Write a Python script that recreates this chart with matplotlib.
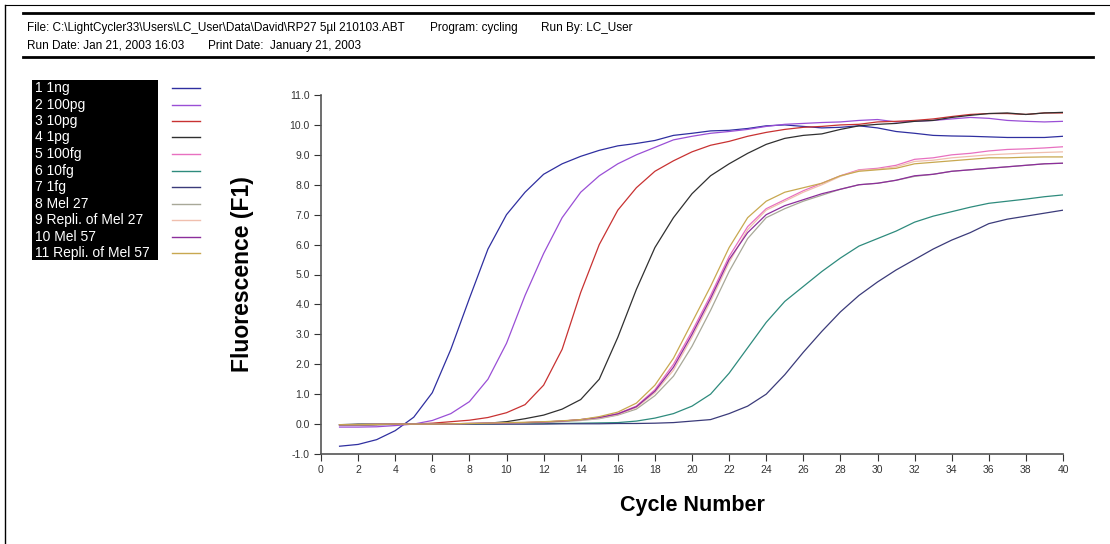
import numpy as np
import matplotlib.pyplot as plt
from matplotlib.patches import Rectangle
from matplotlib.lines import Line2D

plt.rcParams['font.family'] = ['Liberation Sans', 'DejaVu Sans']

# sample names and curve colours
names = ["1 1ng", "2 100pg", "3 10pg", "4 1pg", "5 100fg", "6 10fg", "7 1fg",
         "8 Mel 27", "9 Repli. of Mel 27", "10 Mel 57", "11 Repli. of Mel 57"]
colors = ["#2f2fa0", "#9a4fd6", "#c83232", "#303030", "#e870c0", "#2e8b7d",
          "#3b3b7a", "#a8a898", "#f0bfae", "#8c2e9c", "#c8a850"]

cycles = np.arange(1, 41)

# fluorescence (F1) per cycle
f_1ng = [-0.74, -0.68, -0.52, -0.22, 0.23, 1.05, 2.5, 4.2, 5.85, 7.0,
         7.75, 8.35, 8.7, 8.95, 9.15, 9.3, 9.38, 9.48, 9.65, 9.72,
         9.8, 9.82, 9.88, 9.97, 10.0, 9.95, 9.9, 9.92, 9.97, 9.9,
         9.78, 9.72, 9.65, 9.63, 9.62, 9.6, 9.58, 9.58, 9.58, 9.62]
f_100pg = [-0.1, -0.1, -0.09, -0.05, 0.0, 0.12, 0.35, 0.75, 1.5, 2.7,
           4.3, 5.7, 6.9, 7.75, 8.3, 8.7, 9.0, 9.25, 9.5, 9.62,
           9.72, 9.78, 9.85, 9.95, 10.02, 10.05, 10.08, 10.1, 10.15, 10.18,
           10.1, 10.12, 10.15, 10.2, 10.25, 10.22, 10.15, 10.12, 10.1, 10.12]
f_10pg = [-0.03, -0.03, -0.02, 0.0, 0.0, 0.03, 0.08, 0.13, 0.22, 0.38,
          0.65, 1.3, 2.5, 4.4, 6.0, 7.15, 7.9, 8.45, 8.8, 9.1,
          9.32, 9.45, 9.62, 9.75, 9.85, 9.92, 9.95, 10.0, 10.02, 10.1,
          10.12, 10.15, 10.2, 10.28, 10.35, 10.38, 10.38, 10.35, 10.4, 10.4]
f_1pg = [-0.02, 0.0, 0.0, 0.0, 0.0, 0.0, 0.0, 0.01, 0.03, 0.08,
         0.18, 0.3, 0.5, 0.82, 1.5, 2.9, 4.5, 5.9, 6.9, 7.7,
         8.3, 8.7, 9.05, 9.35, 9.55, 9.65, 9.7, 9.85, 9.97, 10.02,
         10.05, 10.12, 10.15, 10.25, 10.32, 10.38, 10.4, 10.35, 10.4, 10.42]
f_100fg = [-0.02, -0.02, -0.01, 0.0, 0.0, 0.0, 0.01, 0.02, 0.03, 0.04,
           0.05, 0.07, 0.1, 0.15, 0.22, 0.35, 0.6, 1.15, 2.0, 3.1,
           4.3, 5.6, 6.6, 7.2, 7.5, 7.8, 8.05, 8.3, 8.5, 8.55,
           8.65, 8.85, 8.9, 9.0, 9.05, 9.13, 9.18, 9.2, 9.23, 9.27]
f_10fg = [-0.02, -0.02, -0.01, 0.0, 0.0, 0.0, 0.0, 0.0, 0.0, 0.01,
          0.01, 0.02, 0.02, 0.03, 0.04, 0.05, 0.1, 0.2, 0.35, 0.6,
          1.0, 1.7, 2.55, 3.4, 4.1, 4.6, 5.1, 5.55, 5.95, 6.2,
          6.45, 6.75, 6.95, 7.1, 7.25, 7.38, 7.45, 7.52, 7.6, 7.66]
f_1fg = [-0.03, -0.03, -0.02, -0.01, 0.0, 0.0, 0.0, 0.0, 0.0, 0.0,
         0.0, 0.0, 0.01, 0.01, 0.01, 0.02, 0.02, 0.03, 0.05, 0.1,
         0.15, 0.35, 0.6, 1.0, 1.65, 2.4, 3.1, 3.75, 4.3, 4.75,
         5.15, 5.5, 5.85, 6.15, 6.4, 6.7, 6.85, 6.95, 7.05, 7.15]
f_mel27 = [-0.02, -0.02, -0.01, 0.0, 0.0, 0.0, 0.01, 0.02, 0.02, 0.03,
           0.04, 0.05, 0.08, 0.12, 0.18, 0.3, 0.5, 0.95, 1.6, 2.6,
           3.8, 5.1, 6.2, 6.9, 7.2, 7.45, 7.65, 7.85, 8.0, 8.05,
           8.15, 8.28, 8.35, 8.45, 8.5, 8.55, 8.6, 8.65, 8.7, 8.72]
f_rep27 = [-0.02, -0.02, -0.01, 0.0, 0.0, 0.0, 0.01, 0.02, 0.03, 0.04,
           0.05, 0.07, 0.1, 0.14, 0.2, 0.32, 0.55, 1.05, 1.8, 2.9,
           4.1, 5.4, 6.5, 7.15, 7.45, 7.75, 8.0, 8.28, 8.48, 8.52,
           8.6, 8.78, 8.82, 8.9, 8.95, 9.0, 9.03, 9.06, 9.08, 9.1]
f_mel57 = [-0.02, -0.02, -0.01, 0.0, 0.0, 0.0, 0.01, 0.02, 0.03, 0.04,
           0.05, 0.07, 0.1, 0.15, 0.22, 0.34, 0.58, 1.1, 1.9, 3.0,
           4.2, 5.5, 6.4, 7.0, 7.3, 7.5, 7.7, 7.85, 8.0, 8.05,
           8.15, 8.3, 8.35, 8.45, 8.5, 8.55, 8.6, 8.65, 8.7, 8.72]
f_rep57 = [-0.02, -0.02, -0.01, 0.0, 0.0, 0.0, 0.01, 0.02, 0.03, 0.05,
           0.06, 0.08, 0.11, 0.15, 0.25, 0.4, 0.7, 1.3, 2.2, 3.4,
           4.6, 5.9, 6.9, 7.45, 7.75, 7.9, 8.05, 8.3, 8.45, 8.5,
           8.55, 8.7, 8.75, 8.8, 8.85, 8.9, 8.9, 8.92, 8.93, 8.93]

series = [f_1ng, f_100pg, f_10pg, f_1pg, f_100fg, f_10fg, f_1fg,
          f_mel27, f_rep27, f_mel57, f_rep57]

W, H = 1110, 544
fig = plt.figure(figsize=(W / 100, H / 100), dpi=100)

def fx(px):
    return px / W

def fy(py):
    return 1 - py / H

# page frame and header
fig.add_artist(Line2D([fx(5), fx(5)], [fy(5), 0], color="black", lw=1.0))
fig.add_artist(Line2D([fx(5), 1], [fy(5), fy(5)], color="black", lw=0.8))
fig.add_artist(Line2D([fx(23), fx(1093)], [fy(13), fy(13)], color="black", lw=2.0))
fig.add_artist(Line2D([fx(23), fx(1093)], [fy(57), fy(57)], color="black", lw=2.0))
hdr = dict(fontsize=8.5, va="center", ha="left")
fig.text(fx(27), fy(28), "File: C:\\LightCycler33\\Users\\LC_User\\Data\\David\\RP27 5µl 210103.ABT", **hdr)
fig.text(fx(430), fy(28), "Program: cycling", **hdr)
fig.text(fx(541), fy(28), "Run By: LC_User", **hdr)
fig.text(fx(27), fy(46), "Run Date: Jan 21, 2003 16:03", **hdr)
fig.text(fx(208), fy(46), "Print Date:  January 21, 2003", **hdr)

# legend block
fig.add_artist(Rectangle((fx(32), fy(260)), fx(158) - fx(32), fy(80) - fy(260),
                         facecolor="black", edgecolor="none"))
for i, (name, c) in enumerate(zip(names, colors)):
    yy = 88 + i * 16.5
    fig.text(fx(35), fy(yy), name, color="white", fontsize=10, va="center", ha="left")
    fig.add_artist(Line2D([fx(172), fx(200)], [fy(yy), fy(yy)], color=c, lw=1.0))

# plot area
ax = fig.add_axes([fx(321), fy(454), fx(1063) - fx(321), fy(95) - fy(454)])
for vals, c in zip(series, colors):
    ax.plot(cycles, vals, color=c, lw=0.9)

ax.set_xlim(0, 40)
ax.set_ylim(-1, 11)
ax.set_xticks(np.arange(0, 41, 2))
ax.set_yticks(np.arange(-1, 12, 1))
ax.set_yticklabels([f"{v:.1f}" for v in np.arange(-1, 12, 1)])
for s in ["top", "right"]:
    ax.spines[s].set_visible(False)
for s in ["left", "bottom"]:
    ax.spines[s].set_color("#555555")
    ax.spines[s].set_linewidth(1.2)
ax.tick_params(axis="both", labelsize=7.5, colors="#333333", length=5, width=0.8, pad=3)
ax.set_xlabel("Cycle Number", fontsize=15.5, fontweight="bold", labelpad=14)
ax.set_ylabel("Fluorescence (F1)", fontsize=16.5, fontweight="bold", labelpad=26)

fig.savefig("out.png", dpi=100)
